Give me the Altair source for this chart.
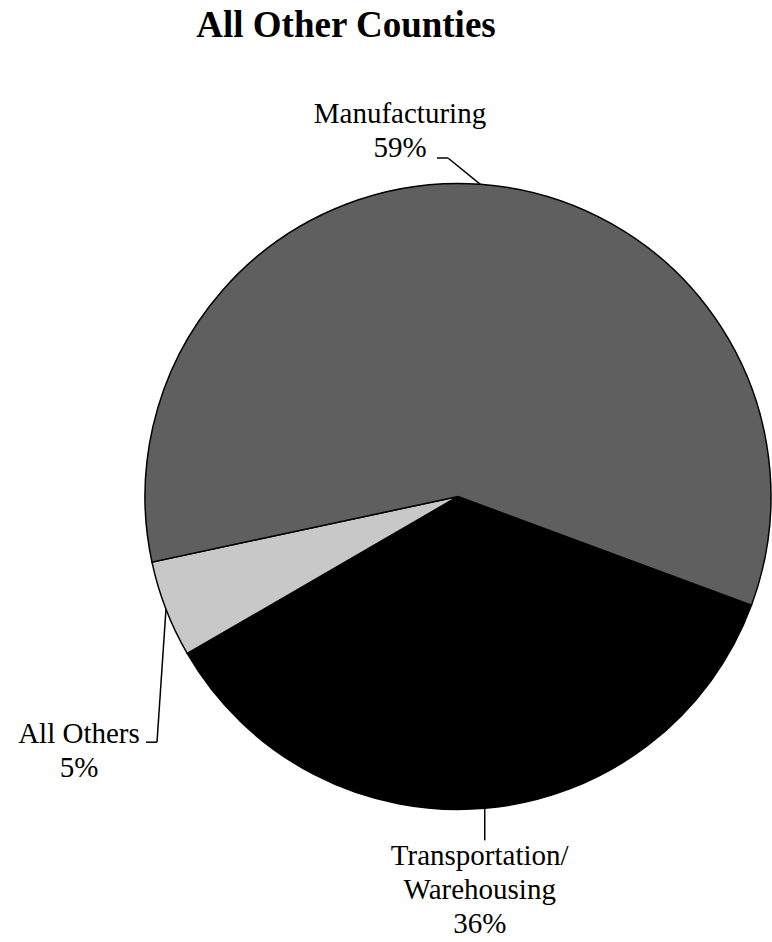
import math
import altair as alt
import pandas as pd

# ---- data ----
TITLE = "All Other Counties"
CATEGORIES = ["Transportation/Warehousing", "All Others", "Manufacturing"]
LABEL_NAMES = ["Transportation/\nWarehousing", "All Others", "Manufacturing"]
SHARES = [36, 5, 59]
COLORS = ["#000000", "#c8c8c8", "#5f5f5f"]

# ---- layout (pixels) ----
W, H = 772, 942
CX, CY, R = 458, 496.5, 313
START_DEG = 110.3  # clockwise from 12 o'clock, where the first slice begins
FONT = "Liberation Serif"
LABEL_SIZE = 29
LINE_H = 34
# leader elbow offset from slice edge, then horizontal tail, then text anchor offset from tail end
ELBOW = [(0, 32), (-9, 133), (-32.4, -26.3)]
TAIL = [0, -11, -11]
TEXT_OFF = [(-5, 25), (-67, 1), (-37, -35)]

df = pd.DataFrame({
    "category": CATEGORIES,
    "share": SHARES,
    "order": list(range(len(CATEGORIES))),
})

# leader / label geometry derived from the shares
total = sum(SHARES)
rows = []
cum = 0.0
for i, (name, s) in enumerate(zip(LABEL_NAMES, SHARES)):
    mid = math.radians(START_DEG + (cum + s / 2) / total * 360)
    cum += s
    ex = CX + R * math.sin(mid)
    ey = CY - R * math.cos(mid)
    bx, by = ex + ELBOW[i][0], ey + ELBOW[i][1]
    tx, ty = bx + TAIL[i], by
    rows.append({
        "category": CATEGORIES[i],
        "ex": ex, "ey": ey, "bx": bx, "by": by, "tx": tx, "ty": ty,
        "lx": tx + TEXT_OFF[i][0], "ly": ty + TEXT_OFF[i][1],
        "label": f"{name}\n{s}%",
    })
geo = pd.DataFrame(rows)

start = math.radians(START_DEG)
pie = alt.Chart(df).mark_arc(
    x=CX, y=CY, outerRadius=R, stroke="black", strokeWidth=1.5
).encode(
    theta=alt.Theta("share:Q", stack=True, scale=alt.Scale(range=[start, start + 2 * math.pi])),
    order=alt.Order("order:Q"),
    color=alt.Color("category:N", scale=alt.Scale(domain=CATEGORIES, range=COLORS), legend=None),
)

base = alt.Chart(geo)
seg1 = base.mark_rule(color="black", strokeWidth=1.5).encode(
    x=alt.X("ex:Q", scale=None, axis=None), y=alt.Y("ey:Q", scale=None, axis=None),
    x2="bx:Q", y2="by:Q",
)
seg2 = base.mark_rule(color="black", strokeWidth=1.5).encode(
    x=alt.X("bx:Q", scale=None, axis=None), y=alt.Y("by:Q", scale=None, axis=None),
    x2="tx:Q", y2="ty:Q",
)
labels = base.mark_text(
    font=FONT, fontSize=LABEL_SIZE, align="center", baseline="alphabetic",
    lineBreak="\n", lineHeight=LINE_H, color="black",
).encode(
    x=alt.X("lx:Q", scale=None, axis=None), y=alt.Y("ly:Q", scale=None, axis=None),
    text="label:N",
)

title = alt.Chart(pd.DataFrame({"t": [TITLE]})).mark_text(
    font=FONT, fontSize=37, fontWeight="bold", align="center", baseline="alphabetic",
    x=346, y=37, color="black",
).encode(text="t:N")

chart = alt.layer(pie, seg1, seg2, labels, title).properties(
    width=W, height=H, autosize="none", padding=0, background="white"
).configure_view(stroke=None)

chart.save("out.html", embed_options={"renderer": "svg", "actions": False})
